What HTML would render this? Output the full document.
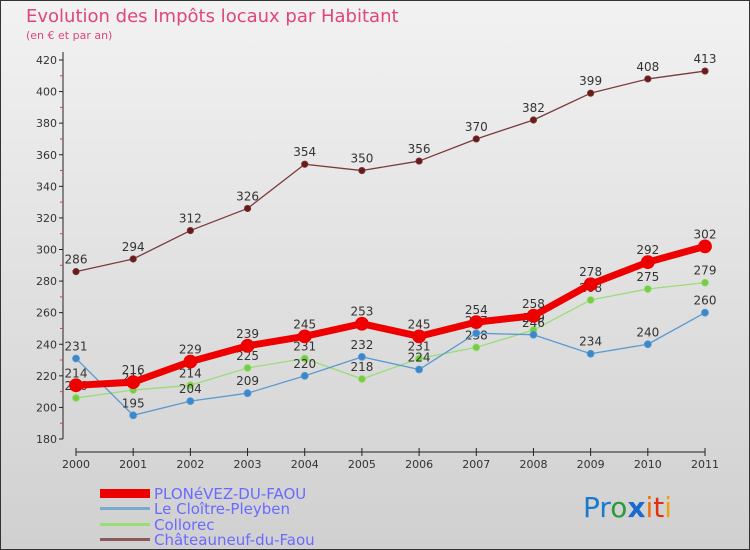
<!DOCTYPE html>
<html><head><meta charset="utf-8"><style>
body{margin:0;width:750px;height:550px;overflow:hidden;font-family:"DejaVu Sans","Liberation Sans",sans-serif}
svg{display:block}
</style></head><body>
<svg id="c" width="750" height="550" xmlns="http://www.w3.org/2000/svg">
<defs><linearGradient id="bg" x1="0" y1="0" x2="0" y2="1"><stop offset="0" stop-color="#f2f2f2"/><stop offset="1" stop-color="#d0d0d0"/></linearGradient></defs>
<rect x="0.5" y="0.5" width="749" height="549" fill="url(#bg)" stroke="#333"/>
<text x="26" y="22" font-size="18" fill="#e0457b">Evolution des Impôts locaux par Habitant</text>
<text x="26" y="39" font-size="11" fill="#e0457b">(en € et par an)</text>
<g id="axes"></g><g id="series"></g>
<g font-size="15" fill="#6a6aff">
<rect x="100" y="489" width="50" height="9" fill="#e00"/>
<text x="154" y="499">PLONéVEZ-DU-FAOU</text>
<rect x="100" y="507" width="50" height="3" fill="#7aaad0"/>
<text x="154" y="514">Le Cloître-Pleyben</text>
<rect x="100" y="523" width="50" height="3" fill="#99dd77"/>
<text x="154" y="530">Collorec</text>
<rect x="100" y="538" width="50" height="3" fill="#8a5a5a"/>
<text x="154" y="545">Châteauneuf-du-Faou</text>
</g>
<g font-size="28" font-family="DejaVu Sans,sans-serif">
<text x="583" y="517"><tspan fill="#1a7ad0">Pr</tspan><tspan fill="#2a9a3a">o</tspan><tspan fill="#1a6ad0" font-weight="bold">x</tspan><tspan fill="#f07010">i</tspan><tspan fill="#e03010">t</tspan><tspan fill="#f0a010">i</tspan></text>
</g>
</svg>
<script>
const years=["2000","2001","2002","2003","2004","2005","2006","2007","2008","2009","2010","2011"];
const yTicks=[180,200,220,240,260,280,300,320,340,360,380,400,420];
const plonevez=[214,216,229,239,245,253,245,254,258,278,292,302];
const cloitre=[231,195,204,209,220,232,224,247,246,234,240,260];
const collorec=[206,211,214,225,231,218,231,238,249,268,275,279];
const chateauneuf=[286,294,312,326,354,350,356,370,382,399,408,413];
const NS="http://www.w3.org/2000/svg";
const xS=i=>76+i*(629/11);
const yS=v=>439-(v-180)*(379/240);
function mk(t,a,p){const e=document.createElementNS(NS,t);for(const k in a)e.setAttribute(k,a[k]);p.appendChild(e);return e;}
const ax=document.getElementById('axes');
let e=mk('line',{x1:63,y1:52,x2:63,y2:439,stroke:'#222'},ax);


e=mk('line',{x1:76,y1:452,x2:705,y2:452,stroke:'#222'},ax);


yTicks.forEach(v=>{const y=yS(v);
 mk('line',{x1:59,y1:y,x2:63,y2:y,stroke:'#222'},ax);
 const t=mk('text',{x:57,y:y+4,'text-anchor':'end','font-size':11,fill:'#333'},ax);t.textContent=v;
 
 
 if(v<420){const ym=yS(v+10);mk('line',{x1:60,y1:ym,x2:63,y2:ym,stroke:'#e04040'},ax);}
});
years.forEach((yr,i)=>{const x=xS(i);
 mk('line',{x1:x,y1:448,x2:x,y2:456,stroke:'#222'},ax);
 const t=mk('text',{x:x,y:468,'text-anchor':'middle','font-size':11,fill:'#333'},ax);t.textContent=yr;
 
 
});
const sg=document.getElementById('series');
function draw(name,data,color,w,r,dot){
 const g=mk('g',{},sg);
 
 
 mk('polyline',{points:data.map((v,i)=>xS(i)+','+yS(v)).join(' '),fill:'none',stroke:color,'stroke-width':w,'stroke-linejoin':'round'},g);
 data.forEach((v,i)=>{
  const c=mk('circle',{cx:xS(i),cy:yS(v),r:r,fill:dot,stroke:color,'stroke-width':0.8},g);
  
  
  const t=mk('text',{x:xS(i),y:yS(v)-8,'text-anchor':'middle','font-size':12,fill:'#333'},g);t.textContent=v;
  
  
 });
}
draw('chateauneuf',chateauneuf,'#7a3a3a',1.3,3.2,'#6a1a1a');
draw('collorec',collorec,'#99dd77',1.3,3.5,'#77cc44');
draw('cloitre',cloitre,'#5a9ad0',1.3,3.5,'#3a88cc');
draw('plonevez',plonevez,'#ee0000',7,6.5,'#ee0000');
</script>
</body></html>
